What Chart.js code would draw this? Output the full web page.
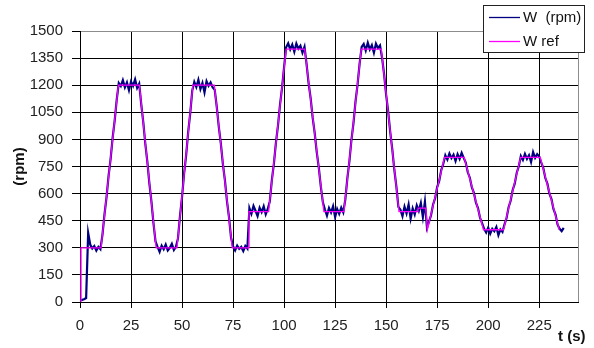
<!DOCTYPE html>
<html lang="en">
<head>
  <meta charset="UTF-8">
  <title>W vs Wref</title>
  <script src="https://cdn.jsdelivr.net/npm/chart.js"></script>
  <style>
    html, body { margin: 0; padding: 0; background: #fff; }
    #box { position: relative; width: 594px; height: 348px; }
  </style>
</head>
<body>

<div id="box"><canvas id="grafico"></canvas></div>

<script>
  // series names (legend)
  const seriesNames = ["W  (rpm)", "W ref"];
  const axisTitleY = "(rpm)";
  const axisTitleX = "t (s)";

  // axis ranges
  const xTicks = [0, 25, 50, 75, 100, 125, 150, 175, 200, 225];
  const xMax = 244;
  const yTicks = [0, 150, 300, 450, 600, 750, 900, 1050, 1200, 1350, 1500];

  // reference speed, breakpoints (s, rpm)
  const refTime = [0.5, 0.5, 10.3, 18.8, 29.1, 37.3, 47.5, 55.3, 65.8, 74.6, 82.8, 82.8, 92.4, 101, 110.1,
    119.5, 129.3, 137.8, 147.6, 156.3, 165.6, 165.6, 169.4, 170.2, 178.6, 188.2, 197.7, 207.5, 215.9, 225.5, 234.8];
  const refSpeed = [0, 300, 300, 1200, 1200, 300, 300, 1200, 1200, 300, 300, 500, 500, 1400, 1400,
    500, 500, 1400, 1400, 500, 500, 520, 520, 400, 800, 800, 400, 400, 800, 800, 400];

  // measured speed, one sample per second starting at t = 0
  const wSpeed = [
    10, 12, 15, 22, 382, 318, 296, 310, 285, 305,
    292, 372, 485, 580, 698, 792, 910, 1005, 1120, 1212,
    1195, 1228, 1188, 1215, 1172, 1220, 1196, 1232, 1185, 1208,
    1095, 996, 876, 776, 655, 556, 436, 335, 305, 278,
    312, 292, 318, 285, 300, 322, 288, 306, 352, 478,
    582, 710, 812, 940, 1044, 1170, 1218, 1190, 1230, 1178,
    1212, 1160, 1222, 1196, 1215, 1188, 1175, 1082, 970, 878,
    765, 674, 560, 470, 356, 308, 286, 312, 294, 305,
    282, 310, 296, 520, 488, 532, 505, 476, 522, 498,
    530, 485, 515, 558, 674, 766, 882, 976, 1092, 1186,
    1300, 1410, 1432, 1398, 1425, 1385, 1430, 1402, 1418, 1380,
    1412, 1318, 1212, 1128, 1020, 935, 830, 744, 638, 552,
    512, 478, 520, 495, 530, 470, 515, 488, 522, 496,
    568, 686, 780, 898, 992, 1110, 1204, 1320, 1412, 1428,
    1392, 1435, 1398, 1422, 1380, 1430, 1405, 1420, 1352, 1260,
    1146, 1054, 940, 846, 732, 640, 526, 510, 475, 528,
    490, 540, 462, 518, 485, 535, 505, 548, 470, 555,
    412, 445, 480, 540, 575, 636, 670, 730, 765, 812,
    788, 822, 796, 815, 780, 818, 792, 825, 798, 772,
    718, 688, 634, 604, 550, 520, 466, 436, 405, 385,
    412, 378, 405, 392, 415, 370, 402, 388, 430, 465,
    525, 560, 620, 655, 716, 752, 808, 786, 820, 792,
    812, 775, 830, 798, 818, 805, 772, 742, 686, 655,
    600, 570, 514, 484, 428, 405, 392, 410
  ];

  const colorW = "#000080";
  const colorRef = "#ff00ff";
  const fuente = 'Arial, "Liberation Sans", sans-serif';

  const puntosW = wSpeed.map((v, i) => ({ x: i, y: v }));
  const puntosRef = refTime.map((t, i) => ({ x: t, y: refSpeed[i] }));

  // legend box and the x axis title, drawn over the plot like the original
  const extras = {
    id: "extras",
    afterDraw(chart) {
      const c = chart.ctx;
      c.save();
      c.fillStyle = "#fff";
      c.fillRect(483.5, 5.5, 101, 47);
      c.strokeStyle = "#222";
      c.lineWidth = 1;
      c.strokeRect(483.5, 5.5, 101, 47);

      const colores = [colorW, colorRef];
      c.font = "15px " + fuente;
      c.textBaseline = "middle";
      c.textAlign = "left";
      seriesNames.forEach((nombre, i) => {
        const y = 17.5 + i * 24;
        c.strokeStyle = colores[i];
        c.lineWidth = 1.3;
        c.beginPath();
        c.moveTo(489, y);
        c.lineTo(520, y);
        c.stroke();
        c.fillStyle = "#111";
        c.fillText(nombre, 523, y);
      });

      c.font = "bold 15px " + fuente;
      c.fillStyle = "#111";
      c.fillText(axisTitleX, 558, 337);
      c.restore();
    }
  };

  new Chart(document.getElementById("grafico"), {
    type: "line",
    data: {
      datasets: [
        {
          label: seriesNames[0],
          data: puntosW,
          borderColor: colorW,
          borderWidth: 2.2,
          pointRadius: 0,
          tension: 0,
          order: 2
        },
        {
          label: seriesNames[1],
          data: puntosRef,
          borderColor: colorRef,
          borderWidth: 1.3,
          pointRadius: 0,
          tension: 0,
          order: 1
        }
      ]
    },
    options: {
      responsive: true,
      maintainAspectRatio: false,
      animation: false,
      events: [],
      layout: { padding: { left: 0, top: 31, right: 16, bottom: 0 } },
      plugins: {
        legend: { display: false },
        tooltip: { enabled: false }
      },
      scales: {
        x: {
          type: "linear",
          min: 0,
          max: xMax,
          afterBuildTicks: (s) => { s.ticks = xTicks.concat([xMax]).map(v => ({ value: v })); },
          afterFit: (s) => { s.height = 46; },
          border: { color: "#000", width: 1 },
          grid: {
            color: (ctx) => ctx.tick && ctx.tick.value === xMax ? "#8c8c8c" : "#000",
            tickColor: (ctx) => ctx.tick && ctx.tick.value === xMax ? "rgba(0,0,0,0)" : "#000",
            tickLength: 6,
            lineWidth: 1
          },
          ticks: {
            color: "#222",
            font: { family: fuente, size: 15 },
            padding: 9,
            maxRotation: 0,
            callback: (v) => v === xMax ? "" : String(v)
          }
        },
        y: {
          min: 0,
          max: 1500,
          afterBuildTicks: (s) => { s.ticks = yTicks.map(v => ({ value: v })); },
          afterFit: (s) => { s.width = 80; },
          border: { color: "#000", width: 1 },
          grid: {
            color: (ctx) => ctx.tick && ctx.tick.value === 1500 ? "#8c8c8c" : "#000",
            tickColor: "#000",
            tickLength: 8,
            lineWidth: 1
          },
          ticks: {
            color: "#222",
            font: { family: fuente, size: 15 },
            padding: 9,
            callback: (v) => String(v)
          },
          title: {
            display: true,
            text: axisTitleY,
            color: "#111",
            font: { family: fuente, size: 15, weight: "bold" },
            padding: { top: 11, bottom: 0 }
          }
        }
      }
    },
    plugins: [extras]
  });
</script>

</body>
</html>
